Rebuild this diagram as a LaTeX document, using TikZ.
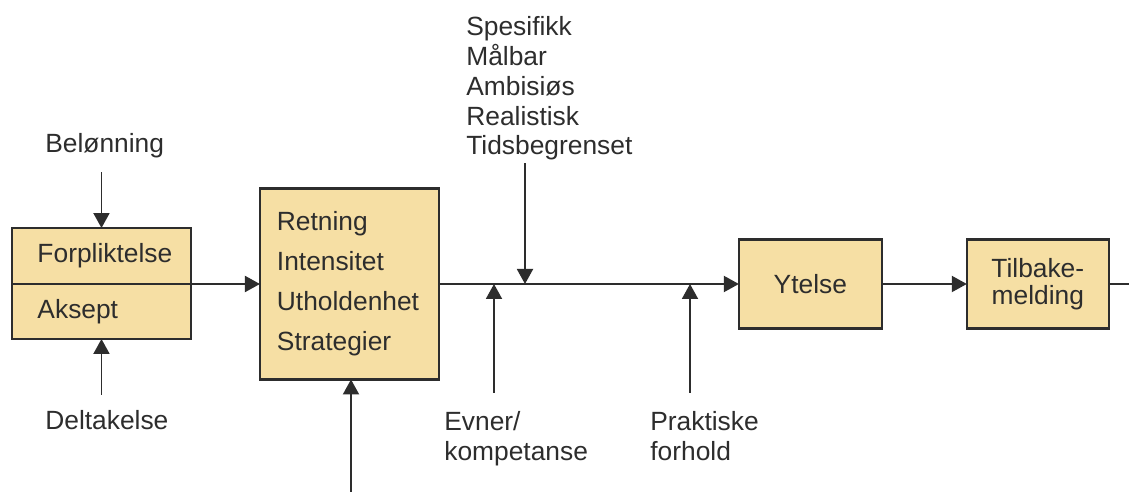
\documentclass[tikz,border=0pt]{standalone}
\usepackage{fontspec}
\setmainfont{Liberation Sans}
\usetikzlibrary{arrows.meta, positioning}
\definecolor{boxfill}{RGB}{246,223,164}
\definecolor{ink}{RGB}{45,45,45}

\begin{document}
\begin{tikzpicture}[x=0.02cm, y=-0.02cm, font=\fontsize{15}{17}\selectfont, text=ink,
    blk/.style={draw=ink, line width=1.4pt, fill=boxfill, outer sep=0pt, minimum height=1.78cm},
    cell/.style={blk, minimum width=3.58cm, minimum height=1.1cm, text width=2.96cm, inner xsep=0.31cm, align=left},
    lbl/.style={inner sep=0pt, align=left},
    arr/.style={draw=ink, line width=1.1pt, -{Triangle[length=0.3cm, width=0.32cm]}}]
    \path[use as bounding box, fill=white] (0,0) rectangle (1129,492);

    \node[cell, minimum height=1.12cm, anchor=south west] at (12,284)
                               (forp)    {\hspace*{0.2cm}Forpliktelse};
    \node[cell, below=0pt of forp]
                               (aksept)  {\hspace*{0.2cm}Aksept};
    \node[blk, minimum width=3.58cm, minimum height=3.82cm, text width=2.9cm, inner xsep=0.34cm,
          align=left, font=\fontsize{15}{22.8}\selectfont, right=1.38cm of forp.south east]
                               (motiv)   {Retning\\Intensitet\\Utholdenhet\\Strategier};
    \node[blk, minimum width=2.86cm, right=6cm of motiv]
                               (ytelse)  {Ytelse};
    \node[blk, minimum width=2.84cm, align=center, font=\fontsize{15}{15.2}\selectfont,
          right=1.7cm of ytelse]
                               (tilbake) {Tilbake-\\melding};

    \node[lbl, anchor=base west]  at (45,153)  (belon) {Belønning};
    \node[lbl, anchor=base west]  at (45,430)  (delta) {Deltakelse};
    \node[lbl, anchor=north west] at (466,16)  (smart) {Spesifikk\\Målbar\\Ambisiøs\\Realistisk\\Tidsbegrenset};
    \node[lbl, anchor=north west] at (444,411) (evner) {Evner/\\kompetanse};
    \node[lbl, anchor=north west] at (650,411) (prakt) {Praktiske\\forhold};

    \coordinate (jE)  at (494,284);
    \coordinate (jS)  at (525,284);
    \coordinate (jP)  at (690,284);
    \coordinate (inn) at (351,492);
    \coordinate (ut)  at (1129,284);

    \draw[arr, shorten <=0.27cm] (belon.south -| forp.north) -- (forp.north);
    \draw[arr, shorten <=0.32cm] (delta.north -| aksept.south) -- (aksept.south);
    \draw[arr] (forp.south east) -- (motiv.west);
    \draw[arr] (motiv.east) -- (ytelse.west);
    \draw[arr] (ytelse) -- (tilbake);
    \draw[draw=ink, line width=1.1pt] (tilbake.east) -- (ut);
    \draw[arr, shorten <=0.05cm] (smart.south -| jS) -- (jS);
    \draw[arr, shorten <=0.36cm] (evner.north -| jE) -- (jE);
    \draw[arr, shorten <=0.36cm] (prakt.north -| jP) -- (jP);
    \draw[arr] (inn) -- (inn |- motiv.south);
\end{tikzpicture}
\end{document}
